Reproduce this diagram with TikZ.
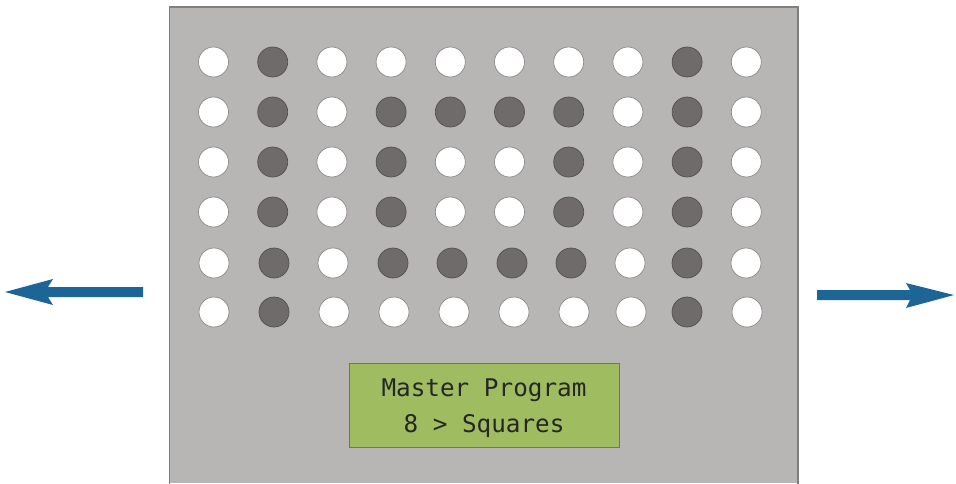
\documentclass[tikz,border=0pt]{standalone}
\usepackage{fontspec}
\newfontfamily\lcdfont{DejaVu Sans Mono}
\definecolor{panel}{HTML}{B7B6B5}
\definecolor{panelborder}{HTML}{7F7F7F}
\definecolor{holedark}{HTML}{6E6B6A}
\definecolor{holeedge}{HTML}{8C8888}
\definecolor{lcd}{HTML}{A0BC60}
\definecolor{lcdedge}{HTML}{6E7A55}
\definecolor{arrowblue}{HTML}{1D6497}
\begin{document}
\begin{tikzpicture}[x=1pt,y=-1pt,
  hole/.style={circle,minimum size=30pt,inner sep=0pt,draw=holeedge,line width=0.7pt,fill=white},
  darkhole/.style={hole,fill=holedark,draw=holedark!75!black},
  lcdbox/.style={draw=lcdedge,line width=0.8pt,fill=lcd,minimum width=270pt,minimum height=84pt,inner sep=0pt},
  lcdtext/.style={inner sep=0pt,align=center,font=\lcdfont\fontsize{24.3}{36}\selectfont,text=black!85},
  bigarrow/.style={fill=arrowblue,draw=none}]
\useasboundingbox (0,0) rectangle (956,483);
% panel
\fill[panel] (169.5,7) rectangle (798,483);
\draw[panelborder,line width=1.2pt] (169.5,484) -- (169.5,7) -- (798,7) -- (798,484);
% holes
\newcommand\holerow[3]{%
  \foreach \x/\v [count=\c] in {#3} {%
    \ifnum\v=1
      \node[darkhole] (h-#1-\c) at (\x,#2) {};
    \else
      \node[hole] (h-#1-\c) at (\x,#2) {};
    \fi
  }}
\holerow{1}{62}{213.5/0,272.7/1,331.9/0,391.1/0,450.3/0,509.5/0,568.7/0,627.9/0,687.1/1,746.3/0}
\holerow{2}{112}{213.5/0,272.7/1,331.9/0,391.1/1,450.3/1,509.5/1,568.7/1,627.9/0,687.1/1,746.3/0}
\holerow{3}{162}{213.5/0,272.7/1,331.9/0,391.1/1,450.3/0,509.5/0,568.7/1,627.9/0,687.1/1,746.3/0}
\holerow{4}{212}{213.5/0,272.7/1,331.9/0,391.1/1,450.3/0,509.5/0,568.7/1,627.9/0,687.1/1,746.3/0}
\holerow{5}{263}{214/0,274/1,333/0,393/1,452/1,512/1,571/1,630/0,687/1,746/0}
\holerow{6}{312}{214/0,274/1,334/0,394/0,454/0,514/0,574/0,631/0,687/1,747/0}
% LCD
\node[lcdbox] (lcd) at (484,405) {};
\node[lcdtext] (lcdlabel) at (484,408.5) {Master Program\\8 > Squares};
% arrows
\coordinate (ltip) at (5,292);
\coordinate (rtip) at (954,295);
\fill[bigarrow] (143,287) -- (48,287) -- (53,279) -- (ltip) -- (53,305) -- (48,297) -- (143,297) -- cycle;
\fill[bigarrow] (817,290) -- (910,290) -- (906,283) -- (rtip) -- (906,308) -- (910,300) -- (817,300) -- cycle;
\end{tikzpicture}
\end{document}
